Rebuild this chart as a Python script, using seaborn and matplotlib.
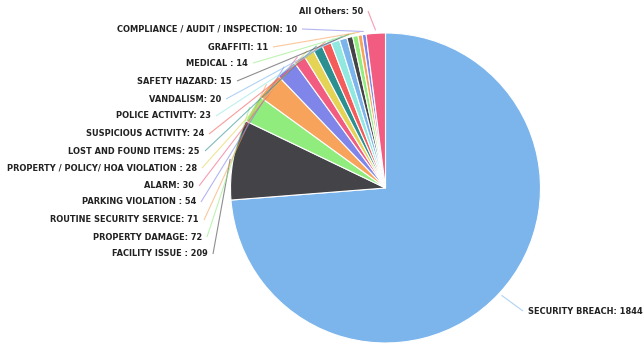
import numpy as np
import matplotlib
matplotlib.use("Agg")
import matplotlib.pyplot as plt
import seaborn as sns

# Incident counts by category (clockwise from the top of the pie)
categories = [
    "SECURITY BREACH", "FACILITY ISSUE ", "PROPERTY DAMAGE", "ROUTINE SECURITY SERVICE",
    "PARKING VIOLATION ", "ALARM", "PROPERTY / POLICY/ HOA VIOLATION ",
    "LOST AND FOUND ITEMS", "SUSPICIOUS ACTIVITY", "POLICE ACTIVITY", "VANDALISM",
    "SAFETY HAZARD", "MEDICAL ", "GRAFFITI", "COMPLIANCE / AUDIT / INSPECTION", "All Others",
]
counts = [1844, 209, 72, 71, 54, 30, 28, 25, 24, 23, 20, 15, 14, 11, 10, 50]

base_colors = ["#7cb5ec", "#434348", "#90ed7d", "#f7a35c", "#8085e9",
               "#f15c80", "#e4d354", "#2b908f", "#f45b5b", "#91e8e1"]
colors = [base_colors[i % len(base_colors)] for i in range(len(counts))]

# Label anchors in pixel space (x = text edge, y from top), left side labels right-aligned
label_anchor = [
    (528, 311, "left"), (208, 254, "right"), (202, 237, "right"), (199, 220, "right"),
    (196, 202, "right"), (194, 186, "right"), (197, 168, "right"), (200, 151, "right"),
    (204, 134, "right"), (211, 116, "right"), (221, 99, "right"), (232, 81, "right"),
    (248, 63, "right"), (268, 47, "right"), (297, 29, "right"), (363, 11, "right"),
]

W, H = 644, 343
sns.set_theme(style="white")
plt.rcParams["font.family"] = ["DejaVu Sans"]

fig = plt.figure(figsize=(W / 100, H / 100), dpi=100)
ax = fig.add_axes([0, 0, 1, 1])

cx, cy, R = 385.5, H - 188, 155
wedges, _ = ax.pie(
    counts, colors=colors, startangle=90, counterclock=False,
    center=(cx, cy), radius=R, frame=True,
    wedgeprops=dict(edgecolor="white", linewidth=0.8),
)
ax.set_xlim(0, W)
ax.set_ylim(0, H)
ax.set_aspect("equal")
ax.axis("off")

for w, name, val, col, (lx, ly, ha) in zip(wedges, categories, counts, colors, label_anchor):
    mid = np.deg2rad((w.theta1 + w.theta2) / 2)
    px = cx + (R + 3) * np.cos(mid)
    py = cy + (R + 3) * np.sin(mid)
    ty = H - ly
    sx = lx + 5 if ha == "right" else lx - 5
    ax.plot([sx, px], [ty, py], color=col, lw=0.8, alpha=0.6, solid_capstyle="butt")
    ax.text(lx, ty, f"{name}: {val}", ha=ha, va="center", fontsize=5.95,
            fontweight="bold", color="#222222")

fig.savefig("out.png", dpi=100)
